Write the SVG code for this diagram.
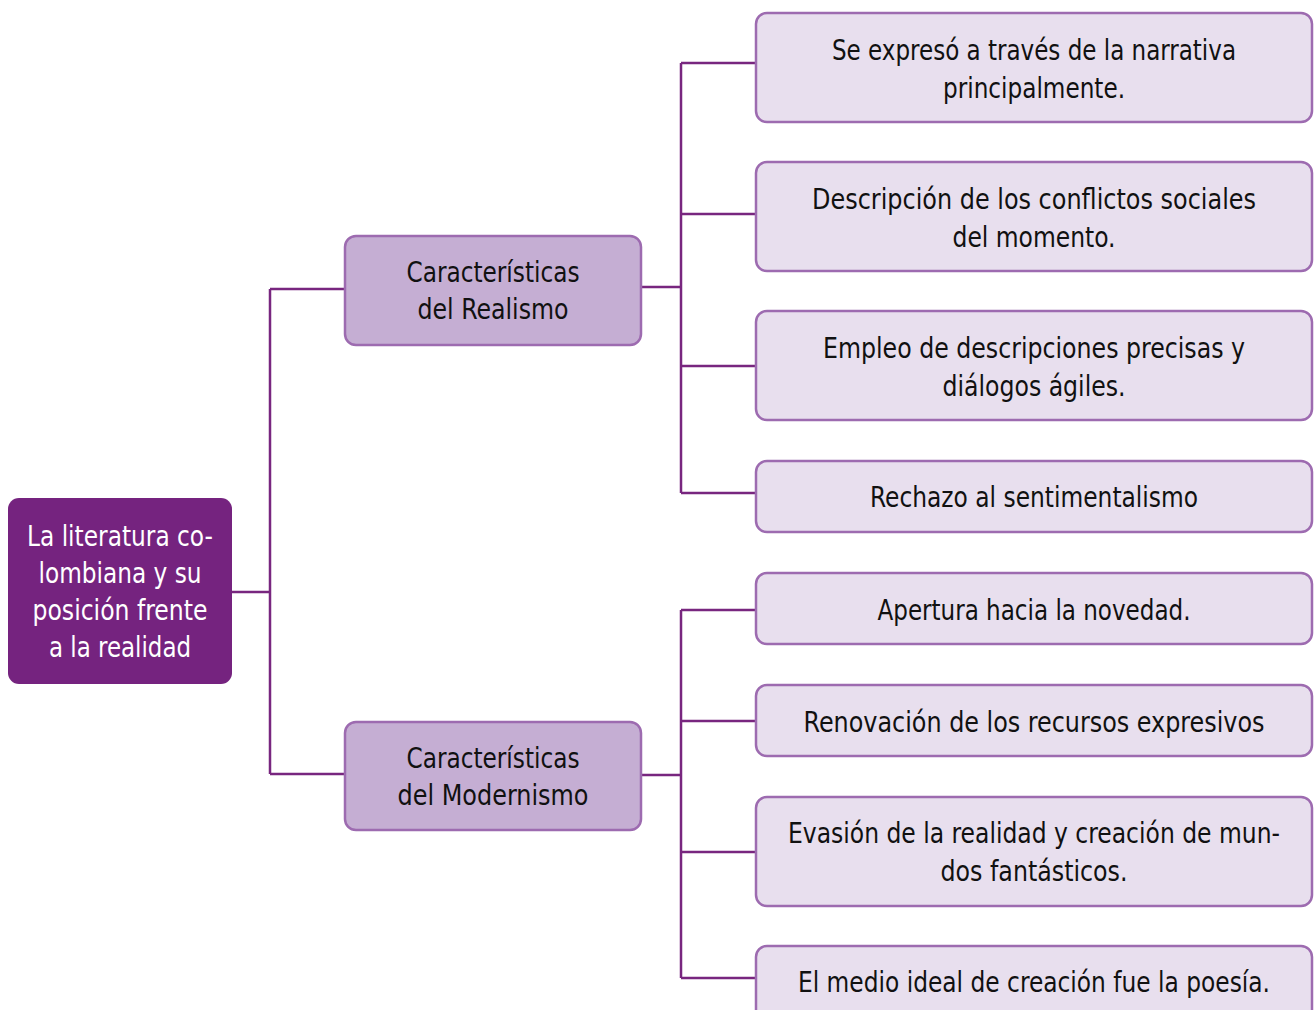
<svg xmlns="http://www.w3.org/2000/svg" width="1314" height="1010" viewBox="0 0 1314 1010">
<style>
.t{font-family:"Liberation Sans Narrow","DejaVu Sans Condensed","Liberation Sans",sans-serif;font-size:29px;text-anchor:middle;fill:#111}
.w{fill:#fff}
.leaf{fill:#e8dfee;stroke:#9d6bb0;stroke-width:2.5}
.mid{fill:#c5aed3;stroke:#9d6bb0;stroke-width:2.5}
.root{fill:#75237f}
.c{fill:none;stroke:#78267f;stroke-width:2.5}
</style>
<rect width="1314" height="1010" fill="#fff"/>
<g id="connectors">
<path class="c" d="M232 592H270M270 289V774M270 289H345M270 774H345"/>
<path class="c" d="M642 287H681M681 63V493M681 63H756M681 214H756M681 366H756M681 493H756"/>
<path class="c" d="M642 775H681M681 610V978M681 610H756M681 721H756M681 852H756M681 978H756"/>
</g>
<g id="root"><rect class="root" x="8" y="498" width="224" height="186" rx="11"/>
<text class="t w" x="120" y="546" textLength="186" lengthAdjust="spacingAndGlyphs">La literatura co-</text><text class="t w" x="120" y="583" textLength="163" lengthAdjust="spacingAndGlyphs">lombiana y su</text><text class="t w" x="120" y="620" textLength="175" lengthAdjust="spacingAndGlyphs">posición frente</text><text class="t w" x="120" y="657" textLength="142" lengthAdjust="spacingAndGlyphs">a la realidad</text></g>
<g id="realismo"><rect class="mid" x="345" y="236" width="296" height="109" rx="11"/>
<text class="t" x="493" y="282" textLength="173" lengthAdjust="spacingAndGlyphs">Características</text><text class="t" x="493" y="319" textLength="151" lengthAdjust="spacingAndGlyphs">del Realismo</text></g>
<g id="modernismo"><rect class="mid" x="345" y="722" width="296" height="108" rx="11"/>
<text class="t" x="493" y="768" textLength="173" lengthAdjust="spacingAndGlyphs">Características</text><text class="t" x="493" y="805" textLength="191" lengthAdjust="spacingAndGlyphs">del Modernismo</text></g>
<g id="r1"><rect class="leaf" x="756" y="13" width="556" height="109" rx="11"/>
<text class="t" x="1034" y="60" textLength="404" lengthAdjust="spacingAndGlyphs">Se expresó a través de la narrativa</text><text class="t" x="1034" y="98" textLength="182" lengthAdjust="spacingAndGlyphs">principalmente.</text></g>
<g id="r2"><rect class="leaf" x="756" y="162" width="556" height="109" rx="11"/>
<text class="t" x="1034" y="209" textLength="444" lengthAdjust="spacingAndGlyphs">Descripción de los conflictos sociales</text><text class="t" x="1034" y="247" textLength="163" lengthAdjust="spacingAndGlyphs">del momento.</text></g>
<g id="r3"><rect class="leaf" x="756" y="311" width="556" height="109" rx="11"/>
<text class="t" x="1034" y="358" textLength="422" lengthAdjust="spacingAndGlyphs">Empleo de descripciones precisas y</text><text class="t" x="1034" y="396" textLength="183" lengthAdjust="spacingAndGlyphs">diálogos ágiles.</text></g>
<g id="r4"><rect class="leaf" x="756" y="461" width="556" height="71" rx="11"/>
<text class="t" x="1034" y="507" textLength="328" lengthAdjust="spacingAndGlyphs">Rechazo al sentimentalismo</text></g>
<g id="m1"><rect class="leaf" x="756" y="573" width="556" height="71" rx="11"/>
<text class="t" x="1034" y="620" textLength="313" lengthAdjust="spacingAndGlyphs">Apertura hacia la novedad.</text></g>
<g id="m2"><rect class="leaf" x="756" y="685" width="556" height="71" rx="11"/>
<text class="t" x="1034" y="732" textLength="461" lengthAdjust="spacingAndGlyphs">Renovación de los recursos expresivos</text></g>
<g id="m3"><rect class="leaf" x="756" y="797" width="556" height="109" rx="11"/>
<text class="t" x="1034" y="843" textLength="492" lengthAdjust="spacingAndGlyphs">Evasión de la realidad y creación de mun-</text><text class="t" x="1034" y="881" textLength="187" lengthAdjust="spacingAndGlyphs">dos fantásticos.</text></g>
<g id="m4"><rect class="leaf" x="756" y="946" width="556" height="80" rx="11"/>
<text class="t" x="1034" y="992" textLength="472" lengthAdjust="spacingAndGlyphs">El medio ideal de creación fue la poesía.</text></g>
</svg>
